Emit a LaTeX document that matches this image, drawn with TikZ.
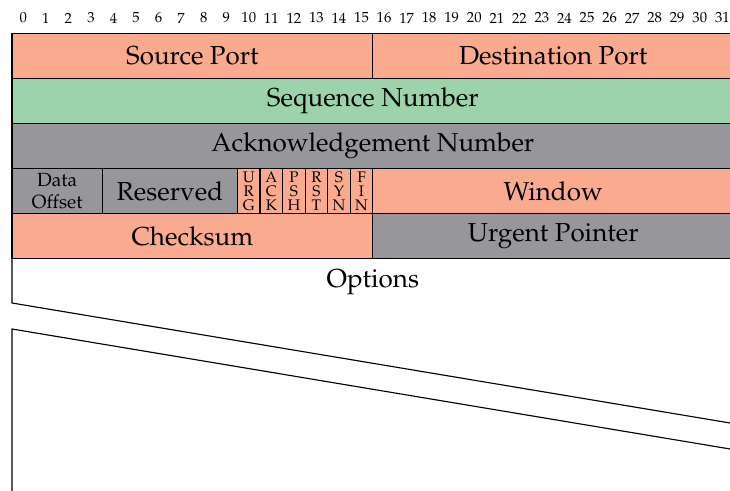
\documentclass[tikz,border=0pt]{standalone}
\usepackage[T1]{fontenc}
\usepackage{mathpazo}
\definecolor{salmon}{HTML}{F9AA8F}
\definecolor{mint}{HTML}{9CD3AB}
\definecolor{slate}{HTML}{97979B}
\begin{document}
\begin{tikzpicture}[x=0.75pt,y=-0.75pt,
  field/.style={draw=black, line width=0.85pt, rectangle, inner sep=0pt, outer sep=0pt,
    anchor=north west, minimum height=33.75pt, font=\fontsize{19.5}{23}\selectfont},
  bits/.style={minimum width=#1*16.9125pt},
  flagbox/.style={field, bits=1, fill=salmon, align=center, font=\fontsize{11.5}{10.6}\selectfont},
  ruler/.style={font=\fontsize{11}{12}\selectfont, inner sep=0pt},
  edge/.style={line width=0.85pt}]
\useasboundingbox (0,0) rectangle (730,491);
% bit ruler
\foreach \i in {0,...,31}
  \node[ruler] (b\i) at ({12+(\i+0.5)*22.55},18) {\i};
% row 1
\node[field, bits=16, fill=salmon] (src) at (12,33.5) {Source Port};
\node[field, bits=16, fill=salmon] (dst) at ({12+16*22.55},33.5) {Destination Port};
% row 2
\node[field, bits=32, fill=mint] (seq) at (12,78.5) {Sequence Number};
% row 3
\node[field, bits=32, fill=slate] (ack) at (12,123.5) {Acknowledgement Number};
% row 4
\node[field, bits=4, fill=slate, align=center, font=\fontsize{14.3}{17}\selectfont] (doff) at (12,168.5) {Data\\Offset};
\node[field, bits=6, fill=slate] (res) at ({12+4*22.55},168.5) {Reserved};
\node[flagbox] (furg) at ({12+10*22.55},168.5) {U\\R\\G};
\node[flagbox] (fack) at ({12+11*22.55},168.5) {A\\C\\K};
\node[flagbox] (fpsh) at ({12+12*22.55},168.5) {P\\S\\H};
\node[flagbox] (frst) at ({12+13*22.55},168.5) {R\\S\\T};
\node[flagbox] (fsyn) at ({12+14*22.55},168.5) {S\\Y\\N};
\node[flagbox] (ffin) at ({12+15*22.55},168.5) {F\\I\\N};
\node[field, bits=16, fill=salmon] (win) at ({12+16*22.55},168.5) {Window};
% row 5
\node[field, bits=16, fill=salmon] (chk) at (12,213.5) {Checksum};
\node[field, bits=16, fill=slate] (urp) at ({12+16*22.55},213.5) {Urgent Pointer};
% options
\node[font=\fontsize{19.5}{23}\selectfont, inner sep=0pt] (opt) at ({12+16*22.55},282) {Options};
\coordinate (ltop) at (12,258.5);
\coordinate (lmid) at (12,303);
\coordinate (rup) at ({12+32*22.55},{303+32*22.55*0.1671});
\coordinate (rlo) at ({12+32*22.55},{329+32*22.55*0.1671});
\coordinate (lmid2) at (12,329);
\coordinate (lbot) at (12,495);
\draw[edge] (ltop) -- (lmid) -- (rup);
\draw[edge] (rlo) -- (lmid2) -- (lbot);
\end{tikzpicture}
\end{document}
